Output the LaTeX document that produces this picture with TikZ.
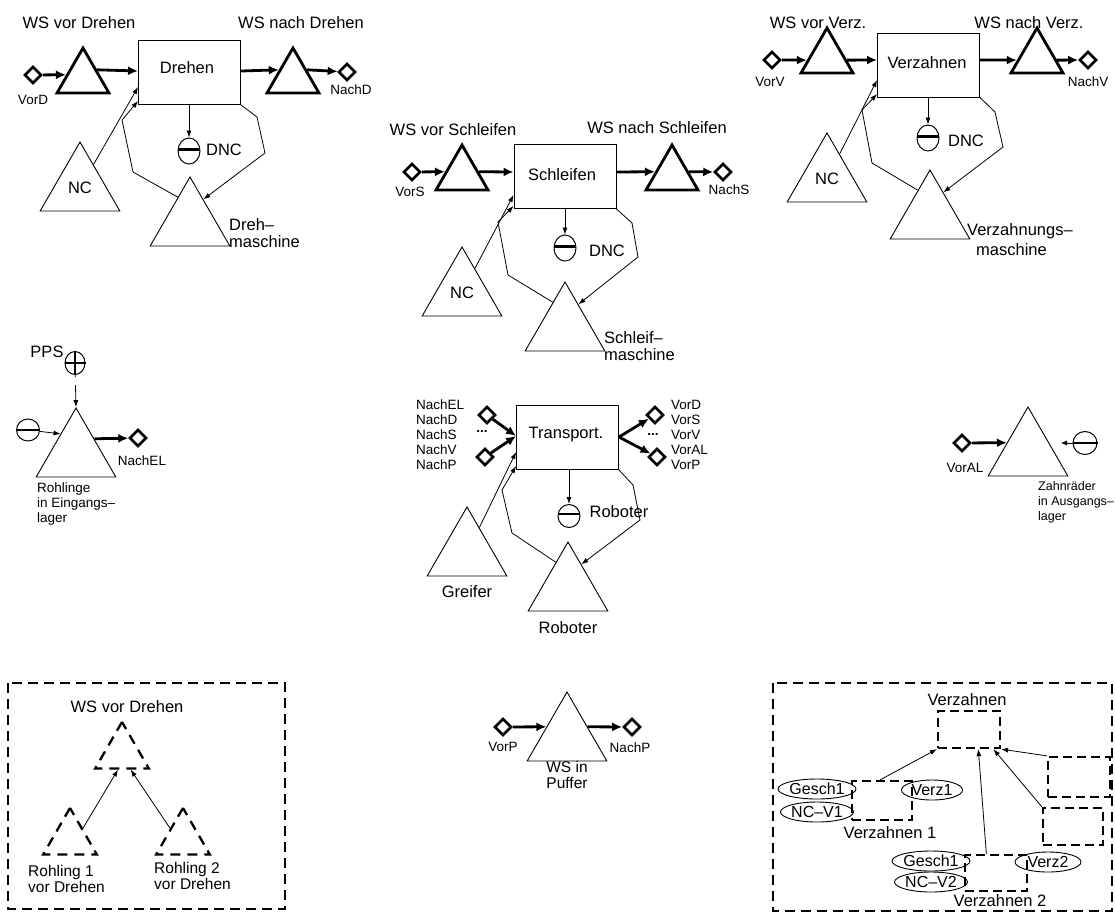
\documentclass[tikz,border=0pt]{standalone}
\usepackage{fontspec}
\setmainfont{Liberation Sans}
\usetikzlibrary{shapes.geometric,arrows.meta,calc}
\begin{document}
\begin{tikzpicture}[x=1pt,y=-1pt,
  big/.style={font=\fontsize{16.5}{17.5}\selectfont, inner sep=0pt},
  mid/.style={font=\fontsize{15.5}{16}\selectfont, inner sep=0pt},
  small/.style={font=\fontsize{13.5}{15}\selectfont, inner sep=0pt},
  tiny/.style={font=\fontsize{12.5}{15}\selectfont, inner sep=0pt},
  box/.style={draw, line width=0.9pt, minimum width=102pt, minimum height=64pt, inner sep=0pt},
  ttri/.style={draw, regular polygon, regular polygon sides=3, minimum size=60pt, inner sep=0pt, line width=2.8pt},
  tri/.style={draw, regular polygon, regular polygon sides=3, minimum size=92pt, inner sep=0pt, line width=0.9pt, font=\fontsize{16.5}{17.5}\selectfont},
  dtri/.style={draw, regular polygon, regular polygon sides=3, minimum size=62pt, inner sep=0pt, line width=2.3pt, dash pattern=on 10pt off 7pt},
  port/.style={draw, diamond, minimum size=17pt, inner sep=0pt, line width=2.7pt},
  store/.style={draw, ellipse, minimum width=22pt, minimum height=26pt, inner sep=0pt, line width=1pt},
  bar/.style={line width=2.6pt},
  thk/.style={line width=2.8pt, -{Latex[length=10pt,width=9pt]}},
  thn/.style={line width=0.8pt, -{Latex[length=7pt,width=5pt]}},
  dbox/.style={draw, line width=2.3pt, dash pattern=on 9pt off 5pt, inner sep=0pt},
  oval/.style={draw, ellipse, line width=0.9pt, inner sep=0pt, minimum width=68pt, minimum height=20pt, font=\fontsize{16}{17}\selectfont},
  frame/.style={line width=2.3pt, dash pattern=on 10pt off 6pt}
]
\useasboundingbox (0,0) rectangle (1116,914);

%================ Drehen module
\node[big] (tWvD) at (79,23) {WS vor Drehen};
\node[big] (tWnD) at (301,23) {WS nach Drehen};
\node[port] (vorD) at (33,75) {};
\node[small] (tVorD) at (33,100) {VorD};
\node[ttri] (wvD) at (83,78) {};
\node[box] (dreh) at (189.5,72.5) {};
\node[big] (tDreh) at (187,68) {Drehen};
\node[ttri] (wnD) at (293,78) {};
\node[port] (nachD) at (347,72) {};
\node[small] (tNachD) at (351,90) {NachD};
\draw[thk] (vorD) -- ($(wvD.corner 1)!0.6!(wvD.corner 2)$);
\draw[thk] ($(wvD.corner 1)!0.5!(wvD.corner 3)$) -- (dreh.west|-0,71);
\draw[thk] (dreh.east|-0,71) -- ($(wnD.corner 1)!0.5!(wnD.corner 2)$);
\draw[thk] ($(wnD.corner 1)!0.5!(wnD.corner 3)$) -- (nachD);
\node[store] (dncD) at (189,151) {};
\draw[bar] (dncD.172) -- (dncD.8);
\draw[thn] (dreh.south-|dncD) -- (dncD);
\node[big] (tDncD) at (224,150) {DNC};
\node[tri] (ncD) at (80,188) {NC};
\draw[thn] (ncD) -- (dreh.west|-0,87);
\node[tri] (mD) at (190,223) {};
\node[big, align=left, anchor=west] (tmD) at (229,233) {Dreh--\\maschine};
\draw[thn] ($(mD.corner 1)!0.3!(mD.corner 2)$) -- (133,172) -- (122,120) -- (dreh.west|-0,101);
\draw[thn] (dreh.south east) -- (257,117) -- (265,153) -- ($(mD.corner 1)!0.33!(mD.corner 3)$);

%================ Schleifen module
\node[big] (tWvS) at (453,130) {WS vor Schleifen};
\node[big] (tWnS) at (657,128) {WS nach Schleifen};
\node[port] (vorS) at (412,172) {};
\node[small] (tVorS) at (410,192) {VorS};
\node[ttri] (wvS) at (462,175) {};
\node[box] (schl) at (565,176.5) {};
\node[big] (tSchl) at (562,175) {Schleifen};
\node[ttri] (wnS) at (672,175) {};
\node[port] (nachS) at (723,172) {};
\node[small] (tNachS) at (729,190) {NachS};
\draw[thk] (vorS) -- ($(wvS.corner 1)!0.6!(wvS.corner 2)$);
\draw[thk] ($(wvS.corner 1)!0.6!(wvS.corner 3)$) -- (schl.west|-0,172);
\draw[thk] (schl.east|-0,172) -- ($(wnS.corner 1)!0.6!(wnS.corner 2)$);
\draw[thk] ($(wnS.corner 1)!0.6!(wnS.corner 3)$) -- (nachS);
\node[store] (dncS) at (565,248) {};
\draw[bar] (dncS.172) -- (dncS.8);
\draw[thn] (schl.south-|dncS) -- (dncS);
\node[big] (tDncS) at (607,251) {DNC};
\node[tri] (ncS) at (462,293) {NC};
\draw[thn] (ncS) -- (schl.west|-0,195);
\node[tri] (mS) at (565,328) {};
\node[big, align=left, anchor=west] (tmS) at (604,346) {Schleif--\\maschine};
\draw[thn] ($(mS.corner 1)!0.3!(mS.corner 2)$) -- (508,275) -- (498,222) -- (schl.west|-0,206);
\draw[thn] (schl.south east) -- (632,223) -- (638,257) -- ($(mS.corner 1)!0.33!(mS.corner 3)$);

%================ Verzahnen module
\node[big] (tWvV) at (818,23) {WS vor Verz.};
\node[big] (tWnV) at (1029,23) {WS nach Verz.};
\node[port] (vorV) at (772,60) {};
\node[small] (tVorV) at (770,82) {VorV};
\node[ttri] (wvV) at (827,58) {};
\node[box] (verz) at (928.5,65) {};
\node[big] (tVerz) at (927,63) {Verzahnen};
\node[ttri] (wnV) at (1037,58) {};
\node[port] (nachV) at (1088,60) {};
\node[small] (tNachV) at (1088,82) {NachV};
\draw[thk] (vorV) -- ($(wvV.corner 1)!0.71!(wvV.corner 2)$);
\draw[thk] ($(wvV.corner 1)!0.71!(wvV.corner 3)$) -- (verz.west|-0,60);
\draw[thk] (verz.east|-0,60) -- ($(wnV.corner 1)!0.71!(wnV.corner 2)$);
\draw[thk] ($(wnV.corner 1)!0.71!(wnV.corner 3)$) -- (nachV);
\node[store] (dncV) at (928,138) {};
\draw[bar] (dncV.172) -- (dncV.8);
\draw[thn] (verz.south-|dncV) -- (dncV);
\node[big] (tDncV) at (966,141) {DNC};
\node[tri] (ncV) at (827,179) {NC};
\draw[thn] (ncV) -- (verz.west|-0,80);
\node[tri] (mV) at (930,216) {};
\node[big, anchor=west] (tmV1) at (967,231) {Verzahnungs--};
\node[big, anchor=west] (tmV2) at (976,250) {maschine};
\draw[thn] ($(mV.corner 1)!0.3!(mV.corner 2)$) -- (872,163) -- (862,110) -- (verz.west|-0,94);
\draw[thn] (verz.south east) -- (995,112) -- (1003,147) -- ($(mV.corner 1)!0.33!(mV.corner 3)$);

%================ Rohlinge im Eingangslager
\node[big] (tPPS) at (47,352) {PPS};
\node[draw, ellipse, minimum width=20pt, minimum height=23pt, inner sep=0pt, line width=1pt] (pps) at (75,363) {};
\draw[line width=1.2pt] (pps.north) -- (pps.south) (pps.west) -- (pps.east);
\node[tri] (rohl) at (76,454) {};
\draw[thn, dash pattern=on 2pt off 8pt on 30pt] (pps) -- (rohl.corner 1);
\node[store, minimum width=23pt, minimum height=22pt] (srcR) at (28,430) {};
\draw[bar] (srcR.west) -- (srcR.east);
\draw[thn] (srcR) -- ($(rohl.corner 1)!0.38!(rohl.corner 2)$);
\node[port] (nachEL) at (138,438) {};
\node[small] (tNachEL) at (142,461) {NachEL};
\draw[thk] ($(rohl.corner 1)!0.45!(rohl.corner 3)$) -- (nachEL);
\node[small, align=left, anchor=north west] (tRohl) at (37,483) {Rohlinge\\in Eingangs--\\lager};

%================ Transport module
\node[box] (trans) at (567.5,437.5) {};
\node[big] (tTrans) at (566,435) {Transport.};
\node[port] (pL1) at (487,415) {};
\node[port] (pL2) at (485,457) {};
\node[port] (pR1) at (655,415) {};
\node[port] (pR2) at (657,457) {};
\draw[thk] (pL1) -- (trans.west|-0,436);
\draw[thk] (pL2) -- (trans.west|-0,436);
\draw[thk] (trans.east|-0,437) -- (pR1);
\draw[thk] (trans.east|-0,437) -- (pR2);
\node[small, font=\bfseries\fontsize{13.5}{15}\selectfont] (dotsL) at (482,431) {...};
\node[small, font=\bfseries\fontsize{13.5}{15}\selectfont] (dotsR) at (653,434) {...};
\node[small, align=left, anchor=west] (tPortsL) at (416,435) {NachEL\\NachD\\NachS\\NachV\\NachP};
\node[small, align=left, anchor=west] (tPortsR) at (671,435) {VorD\\VorS\\VorV\\VorAL\\VorP};
\node[store, minimum width=22pt, minimum height=23pt] (robS) at (569,516) {};
\draw[bar] (robS.170) -- (robS.10);
\draw[thn] (trans.south-|robS) -- (robS);
\node[big] (tRobS) at (619,512) {Roboter};
\node[tri] (greif) at (467,553) {};
\node[big] (tGreif) at (467,592) {Greifer};
\draw[thn] (greif) -- (trans.west|-0,452);
\node[tri] (robT) at (568,588) {};
\node[big] (tRobT) at (568,628) {Roboter};
\draw[thn] ($(robT.corner 1)!0.3!(robT.corner 2)$) -- (512,533) -- (502,490) -- (trans.west|-0,466);
\draw[thn] (trans.south east) -- (633,485) -- (640,520) -- ($(robT.corner 1)!0.33!(robT.corner 3)$);

%================ Zahnraeder im Ausgangslager
\node[tri] (zahn) at (1028,453) {};
\node[port] (vorAL) at (962,443) {};
\node[small] (tVorAL) at (965,468) {VorAL};
\draw[thk] (vorAL) -- ($(zahn.corner 1)!0.52!(zahn.corner 2)$);
\node[store, minimum width=24pt, minimum height=23pt] (snkZ) at (1085,443) {};
\draw[bar] (snkZ.west) -- (snkZ.east);
\coordinate (zStub) at (1061,443);
\draw[line width=0.8pt, {Latex[length=6pt,width=5pt]}-] (zStub) -- (snkZ);
\node[tiny, align=left, anchor=north west] (tZahn) at (1038,481) {Zahnräder\\in Ausgangs--\\lager};

%================ WS vor Drehen (Zerlegung)
\draw[frame] (8,683) rectangle (285,909);
\node[big] (tWvD2) at (127,707) {WS vor Drehen};
\node[dtri] (wsd) at (122,753) {};
\node[dtri] (r1) at (70,839) {};
\node[dtri] (r2) at (183,839) {};
\draw[thn] ($(r1.corner 1)!0.45!(r1.corner 3)$) -- ($(wsd.corner 2)!0.43!(wsd.corner 3)$);
\draw[thn] ($(r2.corner 1)!0.45!(r2.corner 2)$) -- ($(wsd.corner 2)!0.65!(wsd.corner 3)$);
\node[mid, align=left, anchor=north west] (tR1) at (28,865) {Rohling 1\\vor Drehen};
\node[mid, align=left, anchor=north west] (tR2) at (154,862) {Rohling 2\\vor Drehen};

%================ WS in Puffer
\node[tri] (puf) at (567,738) {};
\node[port] (vorP) at (503,727) {};
\node[small] (tVorP) at (503,747) {VorP};
\node[port] (nachP) at (632,727) {};
\node[small] (tNachP) at (630,748) {NachP};
\draw[thk] (vorP) -- ($(puf.corner 1)!0.507!(puf.corner 2)$);
\draw[thk] ($(puf.corner 1)!0.507!(puf.corner 3)$) -- (nachP);
\node[mid, align=center, anchor=north] (tPuf) at (567,761) {WS in\\Puffer};

%================ Verzahnen (Zerlegung)
\draw[frame] (773,683) rectangle (1112,911);
\node[big] (tVz) at (967,700) {Verzahnen};
\node[dbox, minimum width=62pt, minimum height=37pt] (vtop) at (969,729.5) {};
\node[dbox, minimum width=60pt, minimum height=39pt] (v1) at (882,800.5) {};
\node[dbox, minimum width=62pt, minimum height=36pt] (v2) at (996,873) {};
\node[dbox, minimum width=62pt, minimum height=40pt] (vr1) at (1079,777) {};
\node[dbox, minimum width=60pt, minimum height=37pt] (vr2) at (1073,826.5) {};
\node[oval] (g1) at (817,789) {Gesch1};
\node[oval] (n1) at (817,812) {NC--V1};
\node[oval, minimum width=61pt] (z1) at (932,790) {Verz1};
\node[oval] (g2) at (931,861) {Gesch1};
\node[oval] (n2) at (931,882) {NC--V2};
\node[oval, minimum width=66pt] (z2) at (1048,862) {Verz2};
\node[big] (tV1) at (890,833) {Verzahnen 1};
\node[big] (tV2) at (1000,901) {Verzahnen 2};
\draw[thn] ($(v1.north west)!0.47!(v1.north east)$) -- (vtop.south west);
\draw[thn] ($(v2.north west)!0.35!(v2.north east)$) -- ($(vtop.south west)!0.645!(vtop.south east)$);
\draw[thn] (vr2.north west) -- ($(vtop.south west)!0.88!(vtop.south east)$);
\draw[thn] (vr1.north west) -- (vtop.south east);
\end{tikzpicture}
\end{document}
